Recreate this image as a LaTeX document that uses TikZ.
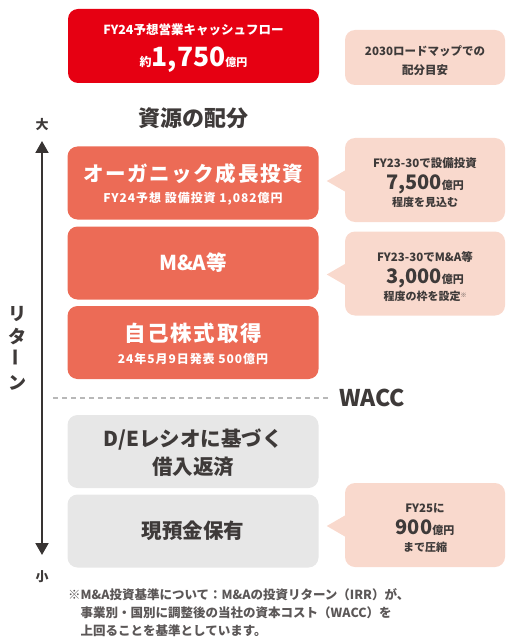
\documentclass[tikz,border=0pt]{standalone}
\usepackage{fontspec}
\usepackage{graphicx}
\usepackage{tikz}
\usetikzlibrary{arrows.meta}
\setmainfont{Noto Sans CJK JP}
\newfontfamily\cespace{Noto Sans CJK JP}[LetterSpace=8]
\definecolor{crouge}{HTML}{E60012}
\definecolor{corange}{HTML}{EC6B56}
\definecolor{crose}{HTML}{F9D9CD}
\definecolor{cgris}{HTML}{E7E7E7}
\definecolor{cnoir}{HTML}{3E3A39}
\newcommand{\cunite}[1]{{\fontsize{11}{11}\selectfont #1}}
\newcommand{\cgros}[1]{{\fontsize{20}{20}\selectfont #1}}
\newcommand{\chaut}[1]{\rule{0pt}{#1}}

\begin{document}
\begin{tikzpicture}[x=1pt, y=-1pt,
  every node/.style = {inner sep=0pt, align=center},
  boite/.style = {rounded corners=10pt, minimum width=251pt, minimum height=73pt},
  bulle/.style = {rounded corners=10pt, fill=crose, text=cnoir,
    minimum width=160pt, minimum height=84pt,
    font=\fontsize{11.5}{17}\selectfont\bfseries},
  titre/.style = {font=\fontsize{20.5}{28}\selectfont\bfseries},
  sous/.style = {font=\cespace\fontsize{12}{21}\selectfont\bfseries}]
  \useasboundingbox (0,0) rectangle (506,639);

  \node[boite, fill=crouge, text=white, minimum height=74pt,
    font=\fontsize{12.5}{32}\selectfont\bfseries] (flux) at (193.5,46)
    {\chaut{16pt}FY24予想営業キャッシュフロー\\
     {\fontsize{12}{12}\selectfont 約}{\fontsize{26.5}{26.5}\selectfont 1,750}\cunite{億円}};
  \node[bulle, minimum height=55pt, font=\fontsize{11.5}{19}\selectfont\bfseries] (feuille) at (425,57.5)
    {\chaut{16pt}2030ロードマップでの\\配分目安};
  \node[font=\fontsize{22}{22}\selectfont\bfseries, text=cnoir] (repart) at (193.5,118) {資源の配分};

  \node[boite, fill=corange, text=white, sous] (organique) at (193,183)
    {\chaut{21pt}{\fontsize{20.5}{20.5}\selectfont オーガニック成長投資}\\FY24予想 設備投資 1,082億円};
  \node[boite, fill=corange, text=white, titre] (fusion) at (193,263) {M\&A等};
  \node[boite, fill=corange, text=white, sous, font=\cespace\fontsize{12}{22}\selectfont\bfseries] (rachat) at (193,342.5)
    {\chaut{21pt}{\fontsize{21.5}{21.5}\selectfont 自己株式取得}\\24年5月9日発表 500億円};
  \node[boite, fill=cgris, text=cnoir, titre] (dette) at (193,451.5)
    {\chaut{21pt}D/Eレシオに基づく\\借入返済};
  \node[boite, fill=cgris, text=cnoir, titre] (tresor) at (193,531) {現預金保有};

  \node[bulle] (b1) at (425,180)
    {\chaut{15.5pt}FY23-30で設備投資\\[5pt]\cgros{7,500}\cunite{億円}\\\cunite{程度を見込む}};
  \node[bulle] (b2) at (425,273.5)
    {\chaut{15.5pt}FY23-30でM\&A等\\[5pt]\cgros{3,000}\cunite{億円}\\\cunite{程度の枠を設定\raisebox{3pt}{\fontsize{6}{6}\selectfont ※}}};
  \node[bulle] (b3) at (425,525)
    {\chaut{15.5pt}FY25に\\[5pt]\cgros{900}\cunite{億円}\\\cunite{まで圧縮}};
  \fill[crose] ([yshift=10pt,xshift=1pt]b1.west) -- ([xshift=-18pt,yshift=-1pt]b1.west) -- ([yshift=-12pt,xshift=1pt]b1.west) -- cycle;
  \fill[crose] ([yshift=10pt,xshift=1pt]b2.west) -- ([xshift=-18pt,yshift=-1pt]b2.west) -- ([yshift=-12pt,xshift=1pt]b2.west) -- cycle;
  \fill[crose] ([yshift=10pt,xshift=1pt]b3.west) -- ([xshift=-18pt,yshift=-1pt]b3.west) -- ([yshift=-12pt,xshift=1pt]b3.west) -- cycle;

  \node[font=\fontsize{23}{23}\selectfont\bfseries, text=cnoir, anchor=west] (wacc) at (339,398) {WACC};
  \coordinate (seuil) at (53,398);
  \draw[draw=black!28, line width=1.5pt, dash pattern=on 4.5pt off 4.5pt] (seuil) -- ([xshift=-8pt]wacc.west);

  \node[font=\fontsize{13}{13}\selectfont\bfseries, text=cnoir] (grand) at (42,125) {大};
  \node[font=\fontsize{13}{13}\selectfont\bfseries, text=cnoir] (petit) at (42,577) {小};
  \coordinate (haut) at (42,141);
  \coordinate (bas) at (42,555);
  \draw[{Triangle[width=13pt,length=12pt]}-{Triangle[width=13pt,length=12pt]},
    line width=2pt, draw=cnoir!90!black] (haut) -- (bas);
  \node[font=\fontsize{18}{23}\selectfont\bfseries, text=cnoir] (retour) at (18,348)
    {リ\\タ\\\rotatebox{90}{ー}\\ン};

  \node[anchor=north west, align=left, text=cnoir!85,
    font=\fontsize{12.5}{18}\selectfont\bfseries] (note) at (68,588.5)
    {※M\&A投資基準について：M\&Aの投資リターン（IRR）が、\\
     \phantom{※}事業別・国別に調整後の当社の資本コスト（WACC）を\\
     \phantom{※}上回ることを基準としています。};
\end{tikzpicture}
\end{document}
